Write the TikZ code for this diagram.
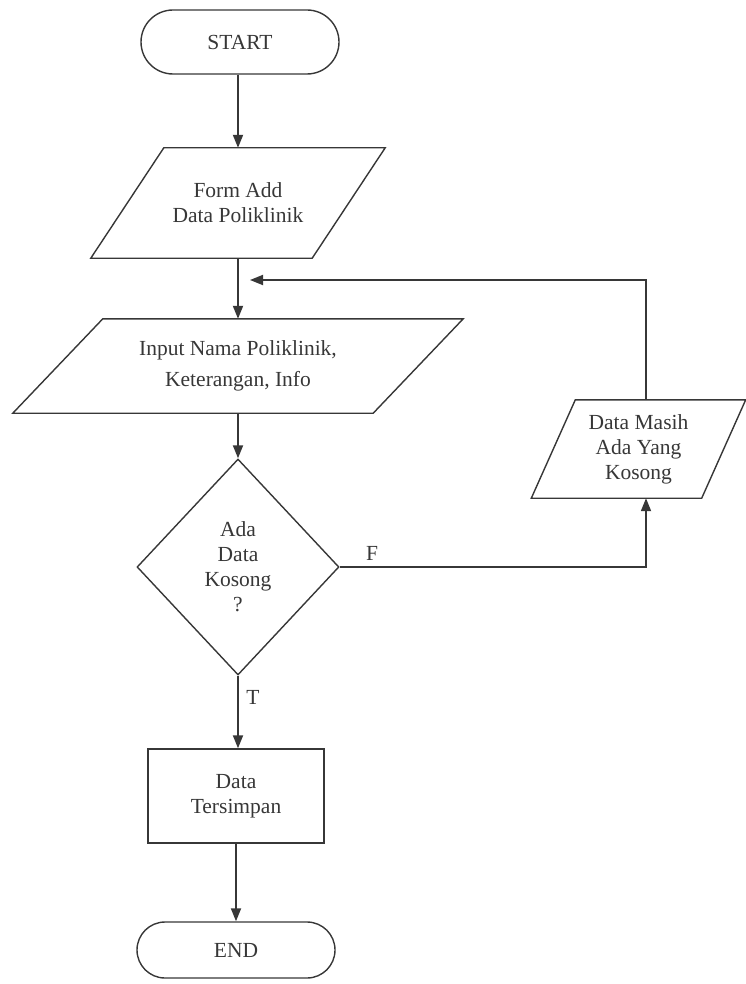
\documentclass[tikz,border=0pt]{standalone}
\usepackage{fontspec}
\setmainfont{Liberation Serif}
\usetikzlibrary{shapes.geometric,arrows.meta}
\definecolor{ink}{RGB}{55,55,55}
\tikzset{
  label text/.style={font=\fontsize{21.5}{25}\selectfont, text=ink, align=center, inner sep=0pt},
  outline/.style={draw=ink, line width=1.4pt, line join=miter},
  terminal/.style={label text, outline, rectangle, rounded corners=#1, minimum width=198pt, minimum height=2*#1},
  iobody/.style={label text, rectangle},
  process/.style={label text, outline, rectangle, minimum width=176pt, minimum height=94pt},
  decision/.style={label text, outline, diamond, minimum width=202pt, minimum height=216pt},
  flow/.style={draw=ink, line width=1.8pt, -{Triangle[length=13pt,width=10pt]}},
}
% parallelogram drawn around a rectangular body node, #2 = half the slant
\newcommand\slantframe[2]{%
  \draw[outline] ([xshift=#2]#1.north west) -- ([xshift=#2]#1.north east)
    -- ([xshift=-#2]#1.south east) -- ([xshift=-#2]#1.south west) -- cycle;}
\begin{document}
\begin{tikzpicture}[x=1pt,y=-1pt]
  \useasboundingbox (0,0) rectangle (745,984);

  \node[terminal=32pt] (start) at (240,42) {START};
  \node[iobody, minimum width=221pt, minimum height=110pt] (form) at (238,203)
    {Form Add\\Data Poliklinik};
  \node[iobody, minimum width=360pt, minimum height=94pt] (input) at (238,366)
    {Input Nama Poliklinik,\\[6pt]Keterangan, Info};
  \node[decision] (dec) at (238,567) {Ada\\Data\\Kosong\\?};
  \node[iobody, minimum width=170pt, minimum height=98pt] (masih) at (638.5,449)
    {Data Masih\\Ada Yang\\Kosong};
  \node[process] (save) at (236,796) {Data\\Tersimpan};
  \node[terminal=28pt] (end) at (236,950) {END};

  \slantframe{form}{36.5pt}
  \slantframe{input}{45pt}
  \slantframe{masih}{22pt}

  \node[label text] (flab) at (372,553) {F};
  \node[label text] (tlab) at (253,697) {T};
  \coordinate (back) at (250,280);

  \draw[flow] (start.south -| form.north) -- (form.north);
  \draw[flow] (form) -- (input);
  \draw[flow] (input) -- (dec);
  \draw[flow] (dec.south) -- (dec.south |- save.north);
  \draw[flow] (save.south -| end.north) -- (end.north);
  \draw[flow] (dec.east) -| ([xshift=7.5pt]masih.south);
  \draw[flow] ([xshift=7.5pt]masih.north) |- (back);
\end{tikzpicture}
\end{document}
